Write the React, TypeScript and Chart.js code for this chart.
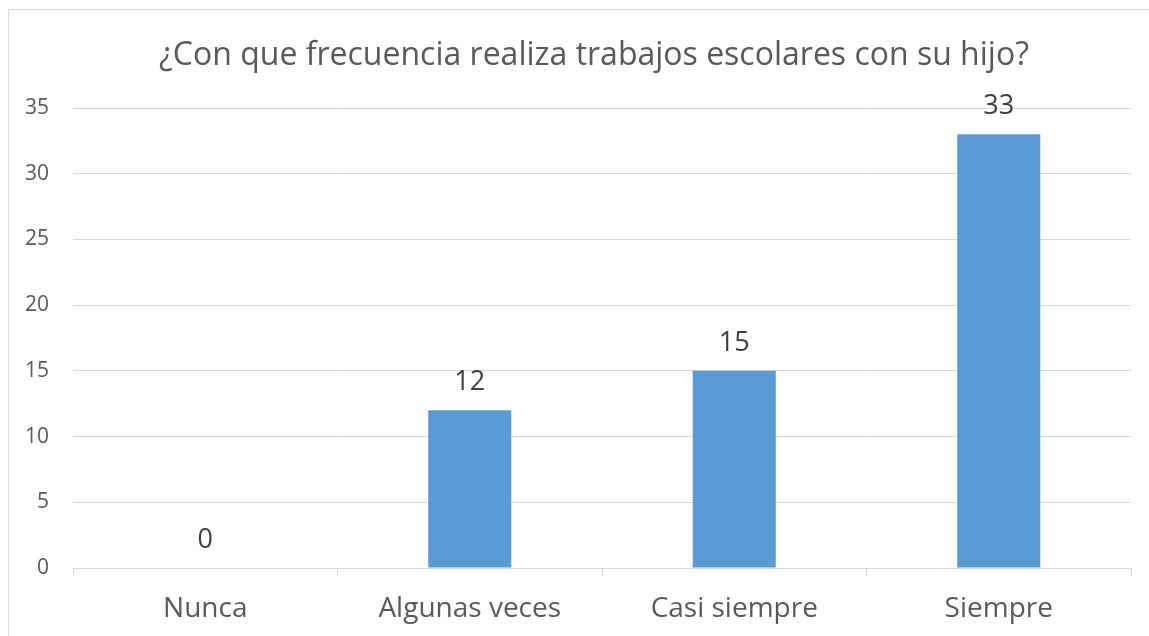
import React, { useEffect, useRef } from "react";
import { Chart, registerables } from "chart.js";

Chart.register(...registerables);

const titleText = "¿Con que frecuencia realiza trabajos escolares con su hijo?";
const categories = ["Nunca", "Algunas veces", "Casi siempre", "Siempre"];
const values = [0, 12, 15, 33];
const yMin = 0;
const yMax = 35;
const yStep = 5;

const FONT = "'Open Sans', 'Noto Sans', sans-serif";

const dataLabelPlugin = {
  id: "dataLabels",
  afterDatasetsDraw(chart: any) {
    const ctx = chart.ctx;
    const meta = chart.getDatasetMeta(0);
    ctx.save();
    ctx.font = `27px ${FONT}`;
    ctx.fillStyle = "#404040";
    ctx.textAlign = "center";
    ctx.textBaseline = "alphabetic";
    meta.data.forEach((bar: any, i: number) => {
      ctx.fillText(String(values[i]), bar.x, bar.y - 20);
    });
    ctx.restore();
  },
};

const titlePlugin = {
  id: "boxTitle",
  afterDraw(chart: any) {
    const ctx = chart.ctx;
    ctx.save();
    ctx.font = `32px ${FONT}`;
    ctx.fillStyle = "#595959";
    ctx.textAlign = "center";
    ctx.textBaseline = "alphabetic";
    ctx.fillText(titleText, 594, 65);
    ctx.restore();
  },
};

export default function App() {
  const ref = useRef<HTMLCanvasElement>(null);
  useEffect(() => {
    document.documentElement.style.overflow = "hidden";
    const chart = new Chart(ref.current!, {
      type: "bar",
      data: {
        labels: categories,
        datasets: [
          {
            data: values,
            backgroundColor: "#5B9BD5",
            borderWidth: 0,
            categoryPercentage: 1,
            barPercentage: 0.314,
          },
        ],
      },
      options: {
        animation: false,
        responsive: false,
        layout: { padding: { left: 0, right: 18, top: 108, bottom: 0 } },
        plugins: {
          legend: { display: false },
          tooltip: { enabled: false },
          title: { display: false },
        },
        scales: {
          x: {
            offset: true,
            grid: {
              offset: true,
              drawOnChartArea: false,
              drawTicks: true,
              tickLength: 8,
              color: "#d9d9d9",
            },
            border: { color: "#d9d9d9", width: 1 },
            ticks: {
              color: "#595959",
              font: { family: FONT, size: 28 },
              padding: 16,
              maxRotation: 0,
            },
            afterFit(scale: any) {
              scale.height = 68;
            },
          },
          y: {
            min: yMin,
            max: yMax,
            grid: { color: "#d9d9d9", drawTicks: false },
            border: { display: false },
            ticks: {
              stepSize: yStep,
              color: "#595959",
              font: { family: FONT, size: 21 },
              padding: 24,
            },
            afterFit(scale: any) {
              scale.width = 73;
            },
          },
        },
      },
      plugins: [dataLabelPlugin, titlePlugin],
    });
    return () => chart.destroy();
  }, []);
  return (
    <>
      <div
        style={{
          position: "fixed",
          left: 8,
          top: 9,
          width: 1300,
          height: 800,
          border: "1px solid #d9d9d9",
          background: "#fff",
        }}
      />
      <canvas
        ref={ref}
        width={1149}
        height={636}
        style={{ position: "fixed", left: 0, top: 0, width: 1149, height: 636 }}
      />
    </>
  );
}
